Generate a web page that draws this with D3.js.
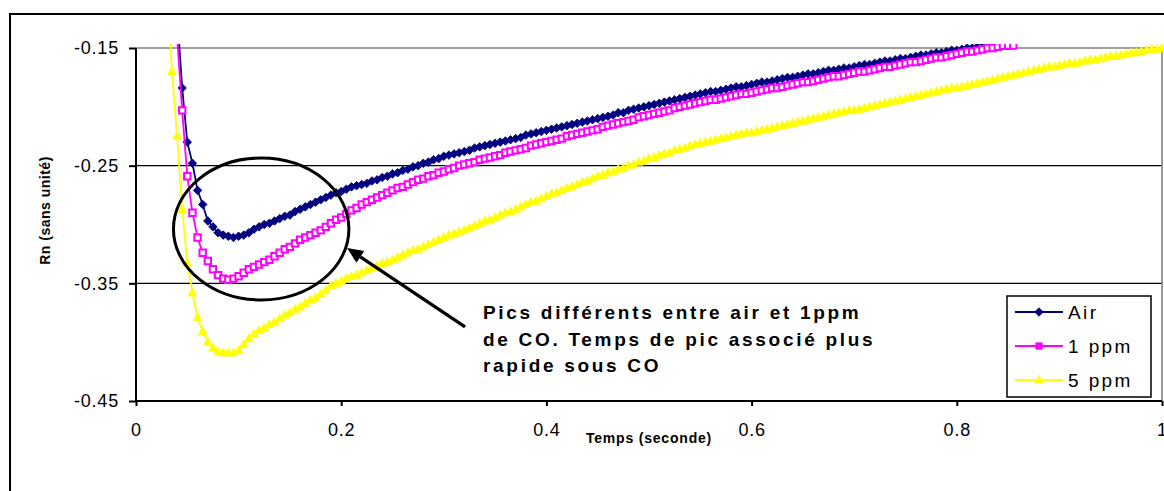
<!DOCTYPE html>
<html>
<head>
<meta charset="utf-8">
<script src="https://cdn.jsdelivr.net/npm/d3@7"></script>
<style>
  html, body { margin: 0; padding: 0; background: #fff; }
  svg { display: block; font-family: Arial, "Liberation Sans", sans-serif; }
</style>
</head>
<body>
<svg id="chart" width="1164" height="491"></svg>
<script>
// Acquisition grid: one reading every 5 ms
const sampleStep = 0.005;

// Air series, Rn readings starting at t = 0.040 s
const airStart = 0.040;
const airRn = [
  -0.120,-0.184,-0.230,-0.248,-0.271,-0.283,-0.297,-0.302,-0.307,-0.309,
  -0.310,-0.311,-0.310,-0.309,-0.307,-0.304,-0.302,-0.300,-0.299,-0.297,
  -0.295,-0.293,-0.292,-0.289,-0.287,-0.285,-0.283,-0.281,-0.279,-0.277,
  -0.275,-0.273,-0.272,-0.270,-0.268,-0.267,-0.266,-0.265,-0.263,-0.262,
  -0.260,-0.259,-0.257,-0.256,-0.254,-0.253,-0.251,-0.250,-0.248,-0.247,
  -0.245,-0.244,-0.242,-0.241,-0.240,-0.239,-0.238,-0.237,-0.235,-0.234,
  -0.233,-0.232,-0.231,-0.230,-0.229,-0.228,-0.227,-0.226,-0.224,-0.223,
  -0.222,-0.221,-0.220,-0.219,-0.218,-0.217,-0.216,-0.215,-0.214,-0.213,
  -0.212,-0.211,-0.210,-0.209,-0.208,-0.207,-0.205,-0.205,-0.203,-0.202,
  -0.201,-0.200,-0.199,-0.198,-0.197,-0.196,-0.195,-0.194,-0.193,-0.192,
  -0.191,-0.190,-0.189,-0.188,-0.187,-0.187,-0.186,-0.185,-0.184,-0.183,
  -0.183,-0.182,-0.181,-0.180,-0.179,-0.179,-0.178,-0.177,-0.176,-0.175,
  -0.175,-0.174,-0.173,-0.172,-0.172,-0.171,-0.170,-0.169,-0.169,-0.168,
  -0.167,-0.167,-0.166,-0.165,-0.164,-0.164,-0.163,-0.162,-0.161,-0.161,
  -0.160,-0.159,-0.159,-0.158,-0.157,-0.156,-0.156,-0.155,-0.154,-0.154,
  -0.153,-0.152,-0.152,-0.151,-0.150,-0.150,-0.149,-0.149,-0.149,-0.148,
  -0.148,-0.148,-0.148
];

// 1 ppm CO series, starting at t = 0.040 s
const ppm1Start = 0.040;
const ppm1Rn = [
  -0.140,-0.203,-0.259,-0.290,-0.311,-0.324,-0.331,-0.338,-0.343,-0.346,
  -0.347,-0.346,-0.344,-0.341,-0.338,-0.336,-0.334,-0.332,-0.330,-0.327,
  -0.324,-0.321,-0.319,-0.316,-0.313,-0.311,-0.309,-0.307,-0.305,-0.302,
  -0.299,-0.296,-0.294,-0.291,-0.288,-0.286,-0.283,-0.281,-0.279,-0.277,
  -0.275,-0.273,-0.271,-0.269,-0.268,-0.266,-0.264,-0.262,-0.261,-0.259,
  -0.258,-0.256,-0.255,-0.253,-0.252,-0.250,-0.249,-0.248,-0.247,-0.245,
  -0.244,-0.243,-0.242,-0.241,-0.239,-0.238,-0.237,-0.236,-0.235,-0.233,
  -0.232,-0.231,-0.230,-0.229,-0.228,-0.227,-0.225,-0.224,-0.223,-0.222,
  -0.221,-0.220,-0.219,-0.217,-0.216,-0.215,-0.214,-0.213,-0.212,-0.211,
  -0.209,-0.208,-0.207,-0.206,-0.205,-0.204,-0.203,-0.201,-0.200,-0.199,
  -0.198,-0.197,-0.196,-0.195,-0.194,-0.194,-0.193,-0.192,-0.191,-0.190,
  -0.189,-0.189,-0.188,-0.187,-0.186,-0.185,-0.184,-0.184,-0.183,-0.182,
  -0.181,-0.180,-0.179,-0.179,-0.178,-0.177,-0.176,-0.175,-0.174,-0.174,
  -0.173,-0.172,-0.171,-0.170,-0.170,-0.169,-0.168,-0.167,-0.166,-0.166,
  -0.165,-0.164,-0.163,-0.162,-0.162,-0.161,-0.160,-0.159,-0.158,-0.158,
  -0.157,-0.156,-0.155,-0.154,-0.153,-0.153,-0.152,-0.151,-0.150,-0.150,
  -0.149,-0.148,-0.148,-0.148
];

// 5 ppm CO series, starting at t = 0.030 s
const ppm5Start = 0.030;
const ppm5Rn = [
  -0.080,-0.170,-0.225,-0.287,-0.333,-0.358,-0.379,-0.391,-0.400,-0.405,
  -0.408,-0.409,-0.409,-0.409,-0.407,-0.402,-0.397,-0.393,-0.390,-0.388,
  -0.385,-0.383,-0.380,-0.377,-0.375,-0.372,-0.370,-0.367,-0.364,-0.362,
  -0.359,-0.356,-0.352,-0.350,-0.348,-0.346,-0.344,-0.343,-0.341,-0.339,
  -0.337,-0.335,-0.333,-0.332,-0.330,-0.328,-0.326,-0.324,-0.322,-0.321,
  -0.319,-0.317,-0.315,-0.313,-0.311,-0.309,-0.308,-0.306,-0.305,-0.303,
  -0.301,-0.299,-0.297,-0.296,-0.294,-0.292,-0.290,-0.289,-0.287,-0.285,
  -0.283,-0.281,-0.280,-0.278,-0.276,-0.274,-0.273,-0.271,-0.269,-0.268,
  -0.266,-0.264,-0.263,-0.261,-0.259,-0.258,-0.256,-0.255,-0.253,-0.252,
  -0.250,-0.249,-0.247,-0.246,-0.244,-0.243,-0.241,-0.240,-0.239,-0.237,
  -0.236,-0.235,-0.233,-0.232,-0.231,-0.230,-0.229,-0.228,-0.227,-0.226,
  -0.225,-0.224,-0.223,-0.222,-0.222,-0.221,-0.220,-0.219,-0.218,-0.217,
  -0.216,-0.215,-0.214,-0.213,-0.212,-0.211,-0.210,-0.209,-0.208,-0.207,
  -0.206,-0.205,-0.204,-0.203,-0.203,-0.202,-0.201,-0.200,-0.199,-0.198,
  -0.197,-0.196,-0.195,-0.194,-0.193,-0.192,-0.191,-0.190,-0.189,-0.188,
  -0.187,-0.186,-0.185,-0.184,-0.184,-0.183,-0.182,-0.181,-0.180,-0.179,
  -0.178,-0.177,-0.176,-0.175,-0.174,-0.173,-0.172,-0.171,-0.170,-0.169,
  -0.168,-0.167,-0.166,-0.166,-0.165,-0.164,-0.163,-0.163,-0.162,-0.161,
  -0.160,-0.160,-0.159,-0.158,-0.157,-0.157,-0.156,-0.155,-0.154,-0.154,
  -0.153,-0.152,-0.151,-0.151,-0.150,-0.149,-0.149
];

const seriesNames = ["Air", "1 ppm", "5 ppm"];
const seriesColors = ["#000080", "#FF00FF", "#FFFF00"];
const xTicks = [0, 0.2, 0.4, 0.6, 0.8, 1];
const yTicks = [-0.45, -0.35, -0.25, -0.15];
const xTitle = "Temps (seconde)";
const yTitle = "Rn (sans unité)";
const noteLines = [
  "Pics différents entre air et 1ppm",
  "de CO. Temps de pic associé plus",
  "rapide sous CO"
];

// ---- build the point lists on the sampling grid
function toPoints(start, values) {
  return values.map((v, i) => ({ t: +(start + i * sampleStep).toFixed(3), v }));
}
const series = [
  { name: seriesNames[0], color: seriesColors[0], marker: "diamond", pts: toPoints(airStart, airRn) },
  { name: seriesNames[1], color: seriesColors[1], marker: "square",  pts: toPoints(ppm1Start, ppm1Rn) },
  { name: seriesNames[2], color: seriesColors[2], marker: "triangle", pts: toPoints(ppm5Start, ppm5Rn) }
];

const svg = d3.select("#chart");
const x = d3.scaleLinear().domain([0, 1]).range([136, 1162]);
const y = d3.scaleLinear().domain([-0.45, -0.15]).range([401, 48]);

// chart frame
svg.append("rect").attr("x", 0).attr("y", 0).attr("width", 1164).attr("height", 491).attr("fill", "#fff");
svg.append("rect").attr("x", 10).attr("y", 14).attr("width", 1200).attr("height", 520)
  .attr("fill", "#fff").attr("stroke", "#000").attr("stroke-width", 2);

// horizontal gridlines
svg.append("g").selectAll("line")
  .data(yTicks.filter(d => d > -0.45 && d < -0.15))
  .join("line")
  .attr("x1", x(0)).attr("x2", x(1))
  .attr("y1", d => y(d)).attr("y2", d => y(d))
  .attr("stroke", "#000").attr("stroke-width", 1.3);

// plot-area border (top and right)
svg.append("path")
  .attr("d", `M${x(0)},${y(-0.15)}H${x(1)}V${y(-0.45)}`)
  .attr("fill", "none").attr("stroke", "#808080").attr("stroke-width", 1.6);

// axes
const yAxis = svg.append("g").attr("transform", `translate(${x(0)},0)`)
  .call(d3.axisLeft(y).tickValues(yTicks).tickSize(7).tickPadding(10).tickFormat(d => d.toFixed(2)));
const xAxis = svg.append("g").attr("transform", `translate(0,${y(-0.45)})`)
  .call(d3.axisBottom(x).tickValues(xTicks).tickSize(5).tickPadding(17).tickFormat(d => String(d)));
[yAxis, xAxis].forEach(g => {
  g.select(".domain").remove();
  g.attr("font-family", null).attr("font-size", null);
  g.selectAll(".tick line").attr("stroke", "#000").attr("stroke-width", 2);
  g.selectAll(".tick text").attr("fill", "#000").attr("font-size", 18).attr("letter-spacing", "0.8px");
});
svg.append("line").attr("x1", x(0)).attr("x2", x(0)).attr("y1", y(-0.15)).attr("y2", y(-0.45) + 1)
  .attr("stroke", "#000").attr("stroke-width", 2);
svg.append("line").attr("x1", x(0) - 1).attr("x2", x(1)).attr("y1", y(-0.45)).attr("y2", y(-0.45))
  .attr("stroke", "#000").attr("stroke-width", 2);

// axis titles
svg.append("text").attr("transform", `translate(${(x(0) + x(1)) / 2},443)`)
  .attr("text-anchor", "middle").attr("font-weight", "bold").attr("font-size", 14)
  .attr("letter-spacing", "0.8px").text(xTitle);
svg.append("text").attr("transform", `translate(50,${(y(-0.15) + y(-0.45)) / 2 - 14}) rotate(-90)`)
  .attr("text-anchor", "middle").attr("font-weight", "bold").attr("font-size", 14)
  .attr("letter-spacing", "0.5px").text(yTitle);

// marker shapes
const markerPath = {
  diamond: "M0,-4.3L4.3,0L0,4.3L-4.3,0Z",
  square: "M-3.2,-3.2H3.2V3.2H-3.2Z",
  triangle: "M0,-4.8L4.3,3.2L-4.3,3.2Z"
};

// series, clipped to the plot area
svg.append("clipPath").attr("id", "plotClip").append("rect")
  .attr("x", x(0)).attr("y", y(-0.15) - 4)
  .attr("width", x(1) - x(0) + 4).attr("height", y(-0.45) - y(-0.15) + 4);
const plot = svg.append("g").attr("clip-path", "url(#plotClip)");
const line = d3.line().x(d => x(d.t)).y(d => y(d.v));

series.forEach(s => {
  const g = plot.append("g");
  g.append("path").datum(s.pts).attr("d", line)
    .attr("fill", "none").attr("stroke", s.color).attr("stroke-width", 1.8);
  g.selectAll("path.mk").data(s.pts).join("path").attr("class", "mk")
    .attr("transform", d => `translate(${x(d.t)},${y(d.v)})`)
    .attr("d", markerPath[s.marker])
    .attr("fill", s.marker === "square" ? "#fff" : s.color)
    .attr("stroke", s.color).attr("stroke-width", s.marker === "square" ? 2 : 0.8);
});

// annotation: ring around the minima, arrow and comment
const ring = { t: 0.122, v: -0.3038, rt: 0.0855, rv: 0.0603 };
svg.append("ellipse")
  .attr("cx", x(ring.t)).attr("cy", y(ring.v))
  .attr("rx", x(ring.rt) - x(0)).attr("ry", y(-0.45) - y(-0.45 + ring.rv))
  .attr("fill", "none").attr("stroke", "#000").attr("stroke-width", 3);

const arrow = { t0: 0.3207, v0: -0.387, t1: 0.2057, v1: -0.3199 };
const ax0 = x(arrow.t0), ay0 = y(arrow.v0), ax1 = x(arrow.t1), ay1 = y(arrow.v1);
const ang = Math.atan2(ay1 - ay0, ax1 - ax0);
const headLen = 16, headHalf = 7;
const bx = ax1 - headLen * Math.cos(ang), by = ay1 - headLen * Math.sin(ang);
svg.append("line").attr("x1", ax0).attr("y1", ay0).attr("x2", bx).attr("y2", by)
  .attr("stroke", "#000").attr("stroke-width", 3.2);
svg.append("path")
  .attr("d", `M${ax1},${ay1}L${bx + headHalf * Math.sin(ang)},${by - headHalf * Math.cos(ang)}L${bx - headHalf * Math.sin(ang)},${by + headHalf * Math.cos(ang)}Z`)
  .attr("fill", "#000");

const note = svg.append("text").attr("font-weight", "bold").attr("font-size", 19)
  .attr("letter-spacing", "2.7px").attr("fill", "#000");
noteLines.forEach((l, i) => {
  note.append("tspan").attr("x", 483).attr("y", 319 + i * 26.5).text(l);
});

// legend
const legend = svg.append("g");
legend.append("rect").attr("x", 1007).attr("y", 296).attr("width", 144).attr("height", 101)
  .attr("fill", "#fff").attr("stroke", "#000").attr("stroke-width", 1.5);
series.forEach((s, i) => {
  const ly = 312 + i * 34;
  legend.append("line").attr("x1", 1015).attr("x2", 1063).attr("y1", ly).attr("y2", ly)
    .attr("stroke", s.color).attr("stroke-width", 1.8);
  legend.append("path").attr("transform", `translate(1039,${ly})`).attr("d", markerPath[s.marker])
    .attr("fill", s.color).attr("stroke", s.color).attr("stroke-width", 0.8);
  legend.append("text").attr("x", 1068).attr("y", ly).attr("dy", "0.36em")
    .attr("font-size", 19).attr("letter-spacing", "2.4px").attr("fill", "#000").text(s.name);
});
</script>
</body>
</html>
